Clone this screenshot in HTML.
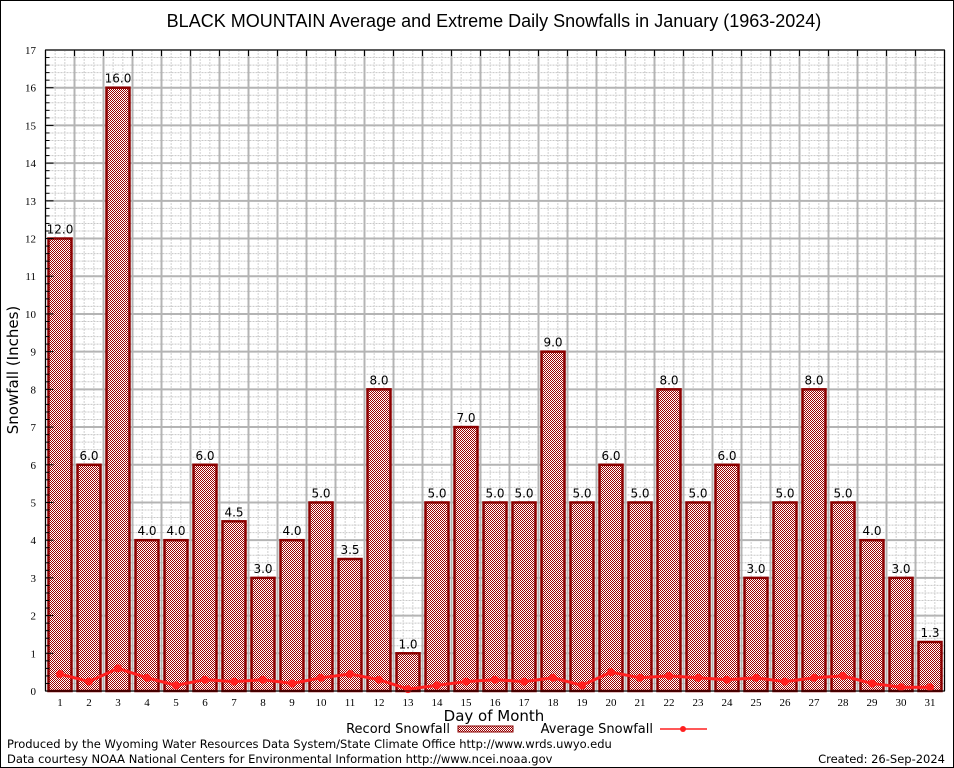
<!DOCTYPE html>
<html><head><meta charset="utf-8"><style>
body{margin:0;background:#fff}
svg{display:block;font-family:"DejaVu Sans","Liberation Sans",sans-serif}
</style></head><body>
<svg id="c" width="954" height="768">
<defs>
<pattern id="chk" width="2" height="2" patternUnits="userSpaceOnUse">
<rect width="2" height="2" fill="#fff"/><rect width="1" height="1" fill="#9c0000"/><rect x="1" y="1" width="1" height="1" fill="#9c0000"/>
</pattern>
</defs>
<rect x="0.5" y="0.5" width="953" height="767" fill="#fff" stroke="#000"/>
<text x="494" y="27" font-size="18" text-anchor="middle" font-family="Liberation Sans, sans-serif">BLACK MOUNTAIN Average and Extreme Daily Snowfalls in January (1963-2024)</text>
<g id="grid"></g>
<g id="bars"></g>
<g id="avg"></g>
<g id="axes"></g>
<text x="18" y="370" font-size="15" text-anchor="middle" transform="rotate(-90 18 370)">Snowfall (Inches)</text>
<text x="494" y="721" font-size="15" text-anchor="middle">Day of Month</text>
<g>
<text x="450" y="733" font-size="13" text-anchor="end">Record Snowfall</text>
<rect x="458" y="726" width="55" height="6" fill="url(#chk)" stroke="#8b0000"/>
<text x="653" y="733" font-size="13" text-anchor="end">Average Snowfall</text>
<line x1="660" y1="729" x2="707" y2="729" stroke="#ff2020" stroke-width="1.5"/>
<circle cx="683" cy="729" r="3" fill="#ff2020"/>
</g>
<text x="7" y="748" font-size="11.5">Produced by the Wyoming Water Resources Data System/State Climate Office http://www.wrds.uwyo.edu</text>
<text x="7" y="763" font-size="11.5">Data courtesy NOAA National Centers for Environmental Information http://www.ncei.noaa.gov</text>
<text x="945" y="763" font-size="11.5" text-anchor="end">Created:  26-Sep-2024</text>
</svg>
<script>
const days=[1,2,3,4,5,6,7,8,9,10,11,12,13,14,15,16,17,18,19,20,21,22,23,24,25,26,27,28,29,30,31];
const recordValues=[12.0,6.0,16.0,4.0,4.0,6.0,4.5,3.0,4.0,5.0,3.5,8.0,1.0,5.0,7.0,5.0,5.0,9.0,5.0,6.0,5.0,8.0,5.0,6.0,3.0,5.0,8.0,5.0,4.0,3.0,1.3];
const averageValues=[0.45,0.25,0.6,0.35,0.15,0.3,0.25,0.3,0.2,0.35,0.45,0.3,0.05,0.15,0.25,0.3,0.25,0.35,0.15,0.5,0.35,0.4,0.35,0.3,0.35,0.25,0.35,0.4,0.2,0.1,0.1];
const yTicks=[0,1,2,3,4,5,6,7,8,9,10,11,12,13,14,15,16,17];
const NS="http://www.w3.org/2000/svg";
const L=45.5,R=944.5,T=50,B=691,yMax=17,step=(R-L)/days.length;
const x=d=>L+(d-0.5)*step;
const y=v=>B-v/yMax*(B-T);
function mk(tag,attrs,parent){const e=document.createElementNS(NS,tag);for(const k in attrs)e.setAttribute(k,attrs[k]);parent.appendChild(e);return e;}
const grid=document.getElementById('grid'),bars=document.getElementById('bars'),avg=document.getElementById('avg'),axes=document.getElementById('axes');
for(let i=0;i<yMax*5;i++){const v=i/5;if(i%5===0)continue;const l=mk('line',{x1:L,x2:R,y1:y(v),y2:y(v),stroke:'#c8c8c8','stroke-dasharray':'2,1'},grid);}
for(let i=0;i<days.length;i++){for(let j=1;j<3;j++){const xx=L+i*step+j*step/3;const l=mk('line',{x1:xx,x2:xx,y1:T,y2:B,stroke:'#d0d0d0','stroke-dasharray':'2,1'},grid);}}
yTicks.forEach(v=>{const l=mk('line',{x1:L,x2:R,y1:y(v),y2:y(v),stroke:'#b4b4b4','stroke-width':2},grid);
const t=mk('text',{x:36,y:y(v)+4,'font-size':11,'text-anchor':'end','font-family':'Liberation Serif, serif'},axes);t.textContent=v;});
for(let i=0;i<=days.length;i++){const xx=L+i*step;const l=mk('line',{x1:xx,x2:xx,y1:T,y2:B,stroke:'#b4b4b4','stroke-width':2},grid);}
days.forEach((d,i)=>{const v=recordValues[i];const b=mk('rect',{x:x(d)-11.5,y:y(v),width:23,height:B-y(v),fill:'url(#chk)',stroke:'#8b0000','stroke-width':2.5},bars);
const t=mk('text',{x:x(d),y:y(v)-5,'font-size':12,'text-anchor':'middle'},bars);t.textContent=v.toFixed(1);
const tl=mk('text',{x:x(d),y:706,'font-size':11,'text-anchor':'middle','font-family':'Liberation Serif, serif'},axes);tl.textContent=d;
const tk=mk('line',{x1:L+i*step,x2:L+i*step,y1:T,y2:T+6,stroke:'#000'},axes);});
const pl=mk('polyline',{points:days.map((d,i)=>x(d)+','+y(averageValues[i])).join(' '),fill:'none',stroke:'#ff2020','stroke-width':3},avg);
days.forEach((d,i)=>{const c=mk('circle',{cx:x(d),cy:y(averageValues[i]),r:4,fill:'#ff2020'},avg);});
for(let i=0;i<=yMax*5;i++){const v=i/5;const tk=mk('line',{x1:L,x2:L+(i%5===0?8:4),y1:y(v),y2:y(v),stroke:'#000'},axes);}
const fr=mk('rect',{x:L,y:T,width:R-L,height:B-T,fill:'none',stroke:'#000'},axes);
</script>
</body></html>
